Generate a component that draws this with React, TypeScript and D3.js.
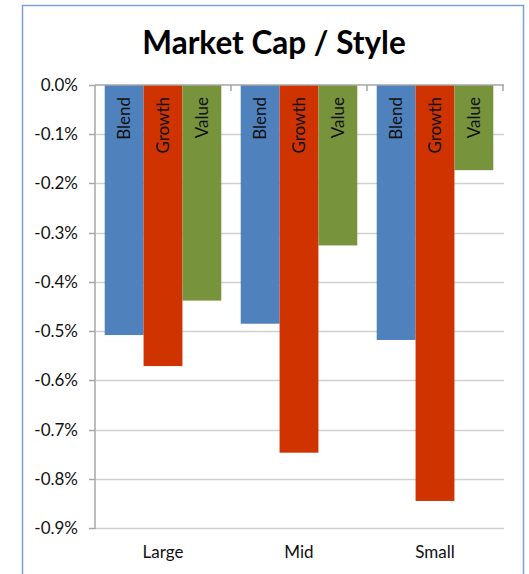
import React, { useRef, useEffect } from 'react';
import * as d3 from 'd3';

const categories = ['Large', 'Mid', 'Small'];
const seriesNames = ['Blend', 'Growth', 'Value'];
const seriesColors = ['#4f81bd', '#cf3300', '#77933c'];
const blendValues = [-0.508, -0.485, -0.518];
const growthValues = [-0.571, -0.747, -0.845];
const valueValues = [-0.438, -0.326, -0.173];
const yTicks = [0, -0.1, -0.2, -0.3, -0.4, -0.5, -0.6, -0.7, -0.8, -0.9];

const W = 529;
const H = 574;
const FONT = 'Lato, "Open Sans", sans-serif';

const App = () => {
  const ref = useRef<SVGSVGElement>(null);

  useEffect(() => {
    const svg = d3.select(ref.current);
    svg.selectAll('*').remove();

    const margin = { top: 85, left: 95, right: 26, bottom: 46 };

    // chart area border
    svg.append('rect')
      .attr('x', 22.5).attr('y', 5.5)
      .attr('width', 501).attr('height', 600)
      .attr('fill', '#fff')
      .attr('stroke', '#7f9fd3')
      .attr('stroke-width', 1.5);

    svg.append('text')
      .attr('x', 274).attr('y', 54)
      .attr('text-anchor', 'middle')
      .style('font-family', FONT)
      .style('font-weight', 'bold')
      .style('font-size', '31.5px')
      .text('Market Cap / Style');

    const x0 = d3.scaleBand()
      .domain(categories)
      .range([margin.left, W - margin.right])
      .paddingInner(0).paddingOuter(0);

    const x1 = d3.scaleBand()
      .domain(seriesNames)
      .range([0, x0.bandwidth()])
      .paddingOuter(0.25)
      .paddingInner(0);

    const y = d3.scaleLinear()
      .domain([0, -0.9])
      .range([margin.top, H - margin.bottom]);

    const g = svg.append('g');

    // gridlines
    g.selectAll('.grid')
      .data(yTicks.slice(1))
      .enter().append('line')
      .attr('x1', margin.left).attr('x2', W - margin.right + 1)
      .attr('y1', d => Math.round(y(d)) + 0.5).attr('y2', d => Math.round(y(d)) + 0.5)
      .attr('stroke', '#d0d0d0').attr('stroke-width', 1.5);

    // y tick labels and marks
    g.selectAll('.ylab')
      .data(yTicks)
      .enter().append('text')
      .attr('x', 78).attr('y', d => y(d) + 6)
      .attr('text-anchor', 'end')
      .style('font-family', FONT)
      .style('font-size', '17px')
      .attr('fill', '#111')
      .text(d => d3.format('.1%')(d / 100).replace('−', '-'));

    g.selectAll('.ytick')
      .data(yTicks)
      .enter().append('line')
      .attr('x1', margin.left - 6).attr('x2', margin.left)
      .attr('y1', d => Math.round(y(d)) + 0.5).attr('y2', d => Math.round(y(d)) + 0.5)
      .attr('stroke', '#a6a6a6').attr('stroke-width', 1.5);

    g.append('line')
      .attr('x1', margin.left).attr('x2', margin.left)
      .attr('y1', y(0)).attr('y2', y(-0.9) + 1)
      .attr('stroke', '#a6a6a6').attr('stroke-width', 1.5);

    const seriesValues = [blendValues, growthValues, valueValues];
    const rows = categories.flatMap((c, ci) =>
      seriesNames.map((s, si) => ({ cat: c, series: s, si, value: seriesValues[si][ci] })));

    g.selectAll('.bar')
      .data(rows)
      .enter().append('rect')
      .attr('x', d => x0(d.cat)! + x1(d.series)!)
      .attr('width', x1.bandwidth())
      .attr('y', y(0))
      .attr('height', d => y(d.value) - y(0))
      .attr('fill', d => seriesColors[d.si]);

    // zero axis with category ticks
    g.append('line')
      .attr('x1', margin.left).attr('x2', W - margin.right + 1)
      .attr('y1', y(0)).attr('y2', y(0))
      .attr('stroke', '#a6a6a6').attr('stroke-width', 1.5);

    g.selectAll('.xtick')
      .data(categories.slice(1).concat(['end']))
      .enter().append('line')
      .attr('x1', d => d === 'end' ? W - margin.right : x0(d)!)
      .attr('x2', d => d === 'end' ? W - margin.right : x0(d)!)
      .attr('y1', y(0)).attr('y2', y(0) + 6)
      .attr('stroke', '#a6a6a6').attr('stroke-width', 1.5);

    // bar labels
    g.selectAll('.blab')
      .data(rows)
      .enter().append('text')
      .attr('transform', d => {
        const cx = x0(d.cat)! + x1(d.series)! + x1.bandwidth() / 2 + 6;
        return `translate(${cx},${y(0) + 12}) rotate(-90)`;
      })
      .attr('text-anchor', 'end')
      .style('font-family', FONT)
      .style('font-size', '17px')
      .attr('fill', '#111')
      .text(d => d.series);

    // category labels
    g.selectAll('.xlab')
      .data(categories)
      .enter().append('text')
      .attr('x', d => x0(d)! + x0.bandwidth() / 2)
      .attr('y', H - 16)
      .attr('text-anchor', 'middle')
      .style('font-family', FONT)
      .style('font-size', '17px')
      .attr('fill', '#111')
      .text(d => d);
  }, []);

  return <svg ref={ref} width={W} height={H} style={{ position: 'absolute', left: 0, top: 0, background: '#fff' }}></svg>;
};

export default App;
